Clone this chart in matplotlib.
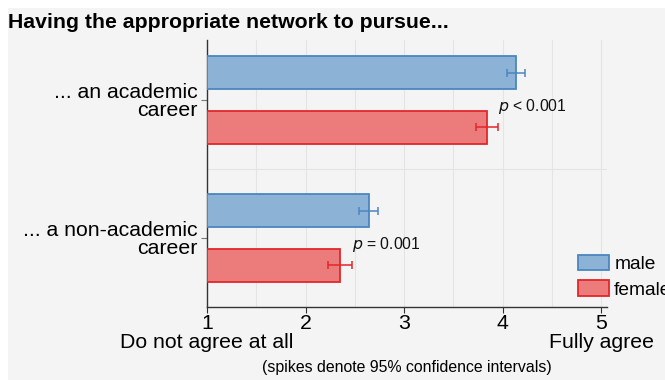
import matplotlib.pyplot as plt
from matplotlib.patches import Rectangle, Patch
import numpy as np

plt.rcParams['font.family'] = ['Liberation Sans', 'DejaVu Sans']

# mean agreement (1-5) with 95% CI half widths
groups = ['... an academic\ncareer', '... a non-academic\ncareer']
male_mean = [4.14, 2.64]
male_ci = [0.09, 0.10]
female_mean = [3.84, 2.35]
female_ci = [0.11, 0.12]
p_labels = ['$p$ < 0.001', '$p$ = 0.001']
x_ticks = [1, 2, 3, 4, 5]
x_ticklabels = ['1\nDo not agree at all', '2', '3', '4', '5\nFully agree']

bg = '#f4f4f4'
blue_fill, blue_edge = '#8cb3d6', '#4b86c1'
red_fill, red_edge = '#ec7b7b', '#e3262b'

fig = plt.figure(figsize=(6.65, 3.8), dpi=100)
fig.patch.set_facecolor('white')
fig.patches.append(Rectangle((8 / 665, 0), 1, 1 - 8 / 380, transform=fig.transFigure,
                             facecolor=bg, edgecolor='none', zorder=-10))

ax = fig.add_axes([207 / 665, 1 - 307 / 380, 400 / 665, 267 / 380])
ax.set_facecolor(bg)

ypos = np.array([1.0, 0.0])
h = 0.24
off = 0.198

ax.barh(ypos + off, np.array(male_mean) - 1, left=1, height=h,
        color=blue_fill, edgecolor=blue_edge, linewidth=1.3, zorder=3)
ax.barh(ypos - off, np.array(female_mean) - 1, left=1, height=h,
        color=red_fill, edgecolor=red_edge, linewidth=1.3, zorder=3)
ax.errorbar(male_mean, ypos + off, xerr=male_ci, fmt='none', ecolor=blue_edge,
            elinewidth=1.1, capsize=3, capthick=1.1, zorder=4)
ax.errorbar(female_mean, ypos - off, xerr=female_ci, fmt='none', ecolor=red_edge,
            elinewidth=1.1, capsize=3, capthick=1.1, zorder=4)

for y, m, c, lab in zip(ypos, female_mean, female_ci, p_labels):
    ax.text(m + c, y - off + 0.15, lab, ha='left', va='center', fontsize=11.3,
            color='#111111', zorder=5)

ax.set_xlim(1, 5.06)
ax.set_ylim(-0.5, 1.435)

# grid lines at half steps plus the divider between the two groups
for gx in np.arange(1.5, 5.01, 0.5):
    ax.axvline(gx, color='#e4e4e4', lw=0.8, zorder=0)
ax.axhline(0.5, color='#e4e4e4', lw=0.8, zorder=0)

ax.set_yticks(ypos)
ax.set_yticklabels(groups, fontsize=15.3, linespacing=0.9)
ax.set_xticks(x_ticks)
ax.set_xticklabels(x_ticklabels, fontsize=15.3, linespacing=1.0)
ax.tick_params(axis='y', length=4, color='#777777', pad=3)
ax.tick_params(axis='x', length=4, color='#333333', pad=1)
ax.set_xlabel('(spikes denote 95% confidence intervals)', fontsize=11.4, labelpad=6)

for s in ['top', 'right']:
    ax.spines[s].set_visible(False)
for s in ['left', 'bottom']:
    ax.spines[s].set_color('#333333')
    ax.spines[s].set_linewidth(1.0)

handles = [Patch(facecolor=blue_fill, edgecolor=blue_edge, linewidth=1.3, label='male'),
           Patch(facecolor=red_fill, edgecolor=red_edge, linewidth=1.3, label='female')]
fig.legend(handles=handles, loc='upper left', bbox_to_anchor=(574 / 665, 1 - 251 / 380),
           frameon=False, fontsize=13.8, handlelength=1.6, handleheight=0.85,
           handletextpad=0.3, labelspacing=0.38, borderaxespad=0, borderpad=0.2)

fig.text(8 / 665, 1 - 23 / 380, 'Having the appropriate network to pursue...',
         fontsize=15.3, fontweight='bold', ha='left', va='center')

fig.savefig('out.png', dpi=100)
